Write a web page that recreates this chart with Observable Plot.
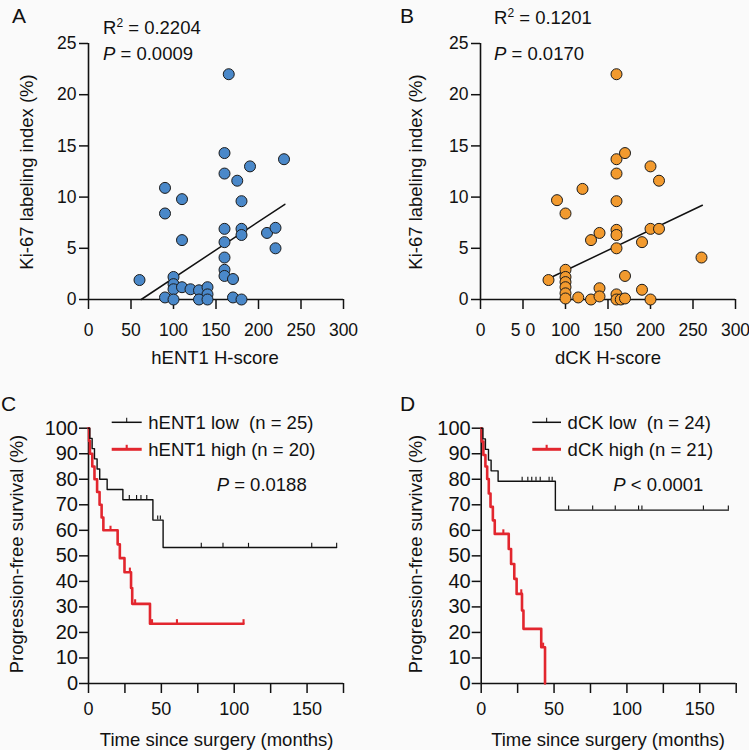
<!DOCTYPE html>
<html><head><meta charset="utf-8">
<script src="https://cdn.jsdelivr.net/npm/d3@7"></script>
<script src="https://cdn.jsdelivr.net/npm/@observablehq/plot@0.6"></script>
<style>
html,body{margin:0;padding:0;background:#fafafa;}
#fig{position:relative;width:749px;height:750px;overflow:hidden;font-family:"Liberation Sans",Arial,sans-serif;}
</style></head><body><div id="fig"></div>
<script>
// ---------- Data ----------
// Panel A: hENT1 H-score vs Ki-67 labeling index (%)
const hentScore = [165,160,190,230,160,175,90,110,180,90,160,180,180,210,220,220,110,160,160,160,160,170,60,100,100,100,110,120,130,140,140,90,100,130,140,170,180];
const hentKi67  = [22.0,14.3,13.0,13.7,12.3,11.6,10.9,9.8,9.6,8.4,6.9,6.9,6.3,6.5,7.0,5.0,5.8,5.6,4.1,2.9,2.3,2.0,1.9,2.2,1.5,1.0,1.2,1.0,0.9,1.2,0.5,0.2,0,0,0,0.2,0];
const hentFitX = [62, 231];
const hentFitY = [0, 9.3];
// Panel B: dCK H-score vs Ki-67 labeling index (%)
const dckScore = [160,160,170,200,210,160,120,90,160,100,160,160,140,130,200,210,190,160,260,170,80,100,100,100,100,100,100,115,130,140,140,160,160,165,170,190,200];
const dckKi67  = [22.0,13.7,14.3,13.0,11.6,12.3,10.8,9.7,9.6,8.4,6.8,6.3,6.5,5.8,6.9,6.9,5.6,5.0,4.1,2.3,1.9,2.9,2.2,1.7,1.2,0.6,0.1,0.2,0,1.1,0.3,0.5,0,0,0.1,0.95,0];
const dckFitX = [84, 261];
const dckFitY = [2.2, 9.2];
const scoreTicks = [0,50,100,150,200,250,300];
const kiTicks = [0,5,10,15,20,25];

// Panel C: PFS by hENT1
const cLowEventT  = [0.9, 2.5, 4.1, 5.9, 7.7, 12.8, 23.6, 44.2, 51.2];
const cLowEventS  = [96, 92, 88, 84, 80, 76, 72, 64, 53.3];
const cLowCensorT = [28, 33, 36, 40, 47.5, 49.3, 77.4, 92.3, 109.8, 153.2, 170.3];
const cHighEventT  = [0.4, 1.0, 2.6, 4.1, 5.9, 7.6, 9.0, 10.2, 20.0, 21.5, 24.7, 29.2, 30.0, 42.2];
const cHighEventS  = [95, 90, 85, 80, 75, 70, 65, 60, 54.5, 49.1, 43.6, 37.4, 31.2, 23.4];
const cHighCensorT = [15.1, 28.4, 32.0, 43.6, 60.7, 106.4];
// Panel D: PFS by dCK
const dLowEventT  = [1.2, 2.9, 5.0, 6.8, 11.6, 50.9];
const dLowEventS  = [95.8, 91.7, 87.5, 83.3, 79.2, 67.9];
const dLowCensorT = [28.1, 32, 34.7, 37.6, 40.5, 46.6, 48.7, 60, 76.5, 92, 108, 110.3, 152.5, 169.6];
const dHighEventT  = [0.3, 1.5, 2.9, 4.1, 5.2, 6.4, 8.0, 9.3, 18.9, 20.5, 22.7, 24.3, 28.0, 29.0, 41.2, 43.8];
const dHighEventS  = [94.8, 89.5, 85.0, 80.1, 74.4, 69.2, 63.9, 58.6, 52.7, 46.8, 41.0, 35.1, 28.6, 21.4, 14.2, 0];
const dHighCensorT = [15.2, 27.5, 42.5];
const monthTicks = [0,25,50,75,100,125,150,175];
const pfsTicks = [0,10,20,30,40,50,60,70,80,90,100];

// ---------- Styling ----------
const FONT = '"Liberation Sans", Arial, sans-serif';
const BLUE = "#4a88c9", ORANGE = "#f29a2e", RED = "#e2262e", INK = "#111";
const fig = document.getElementById("fig");
function place(el, left, top){ el.style.position="absolute"; el.style.left=left+"px"; el.style.top=top+"px"; fig.appendChild(el); }

function scatter(xs, ys, fx, fy, fill, width, marginLeft, marginRight, xFormat){
  const data = xs.map((x,i)=>({x, y: ys[i]}));
  const fit = fx.map((x,i)=>({x, y: fy[i]}));
  return Plot.plot({
    width, height: 375, marginLeft, marginRight, marginTop: 43, marginBottom: 76,
    x: {domain: [0,300]}, y: {domain: [0,25]},
    style: {fontFamily: FONT, fontSize: "17.5px", background: "transparent", color: INK, overflow: "visible"},
    marks: [
      Plot.axisX({ticks: scoreTicks, tickSize: 10, tickPadding: 14, tickFormat: xFormat, label: null, strokeWidth: 1.5}),
      Plot.axisY({ticks: kiTicks, tickSize: 9, tickPadding: 3, label: null, strokeWidth: 1.5}),
      Plot.ruleX([0], {stroke: INK, strokeWidth: 1.6}),
      Plot.ruleY([0], {stroke: INK, strokeWidth: 1.6}),
      Plot.line(fit, {x: "x", y: "y", stroke: INK, strokeWidth: 1.5}),
      Plot.dot(data, {x: "x", y: "y", r: 5.5, fill, stroke: "#1a1a1a", strokeWidth: 1})
    ]
  });
}

function survivalAt(t, et, es){ let s = 100; for (let i=0;i<et.length;i++) if (et[i] <= t) s = es[i]; return s; }
function kmMarks(et, es, ct, color, sw){
  const pts = [{t:0, s:100}, ...et.map((t,i)=>({t, s: es[i]}))];
  const tEnd = Math.max(et[et.length-1], ...ct);
  pts.push({t: tEnd, s: es[es.length-1]});
  const cens = ct.map(t => ({t, s: survivalAt(t, et, es)}));
  return [
    Plot.line(pts, {x: "t", y: "s", curve: "step-after", stroke: color, strokeWidth: sw}),
    Plot.ruleX(cens, {x: "t", y1: "s", y2: d => d.s + 1.6, stroke: color, strokeWidth: sw*0.8})
  ];
}
function km(low, high, width, marginLeft, marginRight){
  return Plot.plot({
    width, height: 375, marginLeft, marginRight, marginTop: 52.7, marginBottom: 67,
    x: {domain: [0,175]}, y: {domain: [0,100]},
    style: {fontFamily: FONT, fontSize: "18px", background: "transparent", color: INK, overflow: "visible"},
    marks: [
      Plot.axisX({ticks: monthTicks, tickSize: 10, tickPadding: 9, tickFormat: d => d % 50 === 0 ? d : "", label: null, strokeWidth: 1.5}),
      Plot.axisY({ticks: pfsTicks, tickSize: 9, tickPadding: 1.5, fontSize: 20, label: null, strokeWidth: 1.5}),
      Plot.ruleX([0], {stroke: INK, strokeWidth: 1.6}),
      Plot.ruleY([0], {stroke: INK, strokeWidth: 1.6}),
      ...kmMarks(high[0], high[1], high[2], RED, 2.6),
      ...kmMarks(low[0], low[1], low[2], INK, 1.4)
    ]
  });
}

place(scatter(hentScore, hentKi67, hentFitX, hentFitY, BLUE, 375, 88, 32, d => String(d)), 0, 0);
place(scatter(dckScore, dckKi67, dckFitX, dckFitY, ORANGE, 374, 105, 14, d => d === 50 ? "5 0" : String(d)), 375, 0);
place(km([cLowEventT,cLowEventS,cLowCensorT],[cHighEventT,cHighEventS,cHighCensorT], 375, 88, 32), 0, 375);
place(km([dLowEventT,dLowEventS,dLowCensorT],[dHighEventT,dHighEventS,dHighCensorT], 374, 105.7, 13.3), 375, 375);

// ---------- Annotations overlay ----------
const svg = d3.create("svg").attr("width", 749).attr("height", 750)
  .style("font-family", FONT).style("fill", INK);
place(svg.node(), 0, 0);
svg.style("pointer-events", "none");
function txt(x, y, s, size, opts = {}){
  const t = svg.append("text").attr("x", x).attr("y", y).attr("font-size", size)
    .attr("text-anchor", opts.anchor || "start").style("white-space", "pre").text(s);
  return t;
}
// panel letters
txt(12, 23, "A", 21); txt(400, 23, "B", 21); txt(1, 411, "C", 21); txt(400, 411, "D", 21);
// R^2 and P
function r2(x, y, val){
  const t = svg.append("text").attr("x", x).attr("y", y).attr("font-size", 18.5).style("white-space","pre");
  t.append("tspan").text("R");
  t.append("tspan").attr("font-size", 12).attr("dy", -7).text("2");
  t.append("tspan").attr("dy", 7).text(" = " + val);
}
function pv(x, y, rest){
  const t = svg.append("text").attr("x", x).attr("y", y).attr("font-size", 18.5).style("white-space","pre");
  t.append("tspan").attr("font-style", "italic").text("P");
  t.append("tspan").text(rest);
}
r2(103, 34, "0.2204"); pv(103, 60, " = 0.0009");
r2(494, 24, "0.1201"); pv(494, 59.5, " = 0.0170");
pv(216.7, 490.7, " = 0.0188");
pv(613.3, 490.7, " < 0.0001");
// axis titles
txt(215, 364, "hENT1 H-score", 18.5, {anchor: "middle"});
txt(608, 364, "dCK H-score", 18.5, {anchor: "middle"});
txt(216.7, 745.5, "Time since surgery (months)", 18.5, {anchor: "middle"});
txt(608, 745.5, "Time since surgery (months)", 18.5, {anchor: "middle"});
function ytitle(x, y, s){
  svg.append("text").attr("transform", `translate(${x},${y}) rotate(-90)`).attr("font-size", 18.5)
    .attr("text-anchor", "middle").text(s);
}
ytitle(33.3, 172, "Ki-67 labeling index (%)");
ytitle(421.5, 172, "Ki-67 labeling index (%)");
ytitle(22.7, 554, "Progression-free survival (%)");
ytitle(421.7, 554, "Progression-free survival (%)");
// legends
function legendItem(x0, x1, y, color, sw, label){
  svg.append("line").attr("x1", x0).attr("x2", x1).attr("y1", y).attr("y2", y).attr("stroke", color).attr("stroke-width", sw);
  const xm = (x0 + x1) / 2;
  svg.append("line").attr("x1", xm).attr("x2", xm).attr("y1", y).attr("y2", y - 4.5).attr("stroke", color).attr("stroke-width", sw * 0.7);
  txt(x1 + 6.6, y + 7, label, 18.5);
}
legendItem(111.7, 141.7, 422.3, INK, 1.5, "hENT1 low  (n = 25)");
legendItem(111.7, 141.7, 449.3, RED, 3, "hENT1 high (n = 20)");
legendItem(532.3, 561, 422.3, INK, 1.5, "dCK low  (n = 24)");
legendItem(532.3, 561, 449.3, RED, 3, "dCK high (n = 21)");
</script>
</body></html>
